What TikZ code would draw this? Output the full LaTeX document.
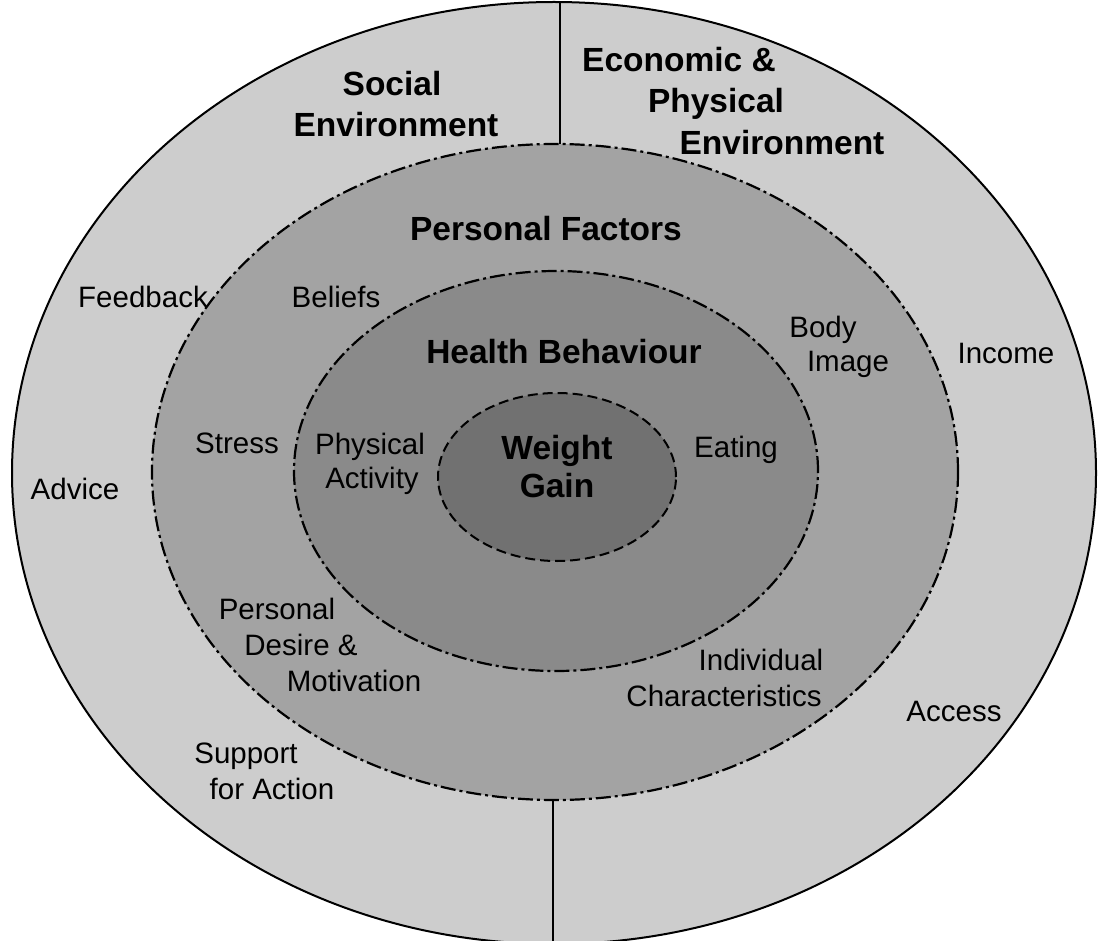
\documentclass[tikz,border=0pt]{standalone}
\usepackage{fontspec}
\setmainfont{Liberation Sans}
\definecolor{outerfill}{HTML}{CDCDCD}
\definecolor{pffill}{HTML}{A3A3A3}
\definecolor{hbfill}{HTML}{8A8A8A}
\definecolor{wgfill}{HTML}{717171}
\begin{document}
\begin{tikzpicture}[x=1pt,y=-1pt,
  lab/.style={font=\fontsize{29.5}{36}\selectfont, inner sep=0pt, anchor=base},
  head/.style={font=\bfseries\fontsize{33.5}{41}\selectfont, inner sep=0pt, anchor=base},
  dashdot/.style={dash pattern=on 15pt off 4pt on 3pt off 4pt, line width=2.2pt},
  dashline/.style={dash pattern=on 10pt off 5pt, line width=2pt},
  divider/.style={line width=2pt}
]
\useasboundingbox (0,0) rectangle (1098,941);
\clip (0,0) rectangle (1098,941);
\fill[white] (0,0) rectangle (1098,941);

% environment ring
\draw[line width=2pt, fill=outerfill] (554,473) ellipse [x radius=542pt, y radius=471pt];

% dividers between social and economic/physical environment
\coordinate (divtopA) at (560,2);
\coordinate (divtopB) at (560,144);
\coordinate (divbotA) at (553,800);
\coordinate (divbotB) at (553,950);
\draw[divider] (divtopA) -- (divtopB);
\draw[divider] (divbotA) -- (divbotB);

% personal factors
\fill[pffill] (555,472) ellipse [x radius=403pt, y radius=328pt];
\draw[dashdot] (555,472) ellipse [x radius=403pt, y radius=328pt];

% health behaviour
\fill[hbfill] (556,471) ellipse [x radius=262pt, y radius=200pt];
\draw[dashdot] (556,471) ellipse [x radius=262pt, y radius=200pt];

% weight gain
\fill[wgfill] (557,477) ellipse [x radius=119pt, y radius=84pt];
\draw[dashline] (557,477) ellipse [x radius=119pt, y radius=84pt];

% headings
\node[head] (soc1) at (392,96) {Social};
\node[head] (soc2) at (396,137) {Environment};
\node[head] (eco1) at (679,72) {Economic \&};
\node[head] (eco2) at (716,113) {Physical};
\node[head] (eco3) at (782,155) {Environment};
\node[head] (pf) at (546,241) {Personal Factors};
\node[head] (hb) at (564,363) {Health Behaviour};
\node[head] (wg1) at (557,459) {Weight};
\node[head] (wg2) at (557,497) {Gain};

% factor labels
\node[lab] (fb) at (143,307.5) {Feedback};
\node[lab] (bel) at (336,307.5) {Beliefs};
\node[lab] (body) at (823,337.5) {Body};
\node[lab] (img) at (848,371.5) {Image};
\node[lab] (inc) at (1006,363.5) {Income};
\node[lab] (str) at (237,453.5) {Stress};
\node[lab] (phy) at (370,454.5) {Physical};
\node[lab] (act) at (372,488.5) {Activity};
\node[lab] (eat) at (736,457.5) {Eating};
\node[lab] (adv) at (75,499.5) {Advice};
\node[lab] (pd1) at (277,619.5) {Personal};
\node[lab] (pd2) at (301,655.5) {Desire \&};
\node[lab] (pd3) at (354,691.5) {Motivation};
\node[lab] (ind1) at (761,670.5) {Individual};
\node[lab] (ind2) at (724,706.5) {Characteristics};
\node[lab] (acc) at (954,721.5) {Access};
\node[lab] (sup1) at (246,763.5) {Support};
\node[lab] (sup2) at (272,799.5) {for Action};
\end{tikzpicture}
\end{document}
